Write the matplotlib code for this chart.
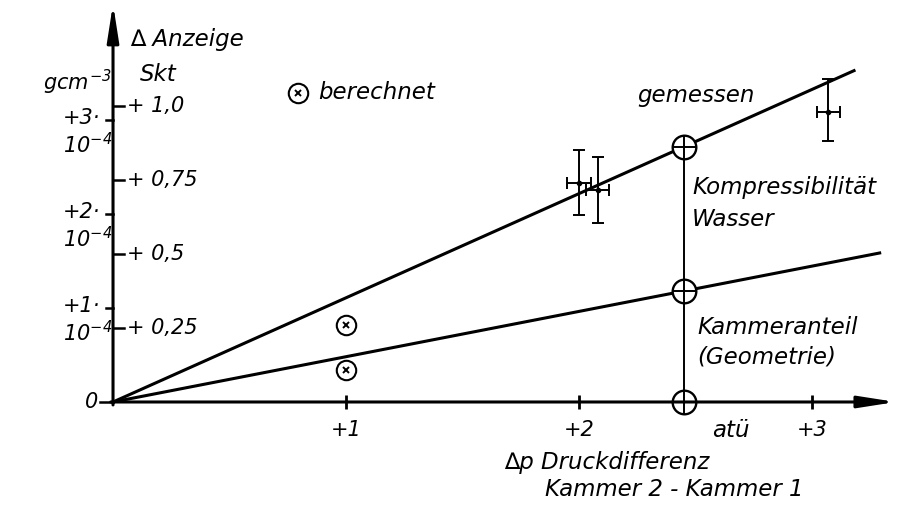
import matplotlib.pyplot as plt

plt.rcParams['font.family'] = ['DejaVu Sans']
plt.rcParams['font.style'] = 'italic'
plt.rcParams['mathtext.fontset'] = 'dejavusans'

# Druckdifferenz in atü, Anzeige in Skalenteilen (Skt)
x_ticks = [1, 2, 3]
x_labels = ['+1', '+2', '+3']
skt_ticks = [0.25, 0.5, 0.75, 1.0]
skt_labels = ['+ 0,25', '+ 0,5', '+ 0,75', '+ 1,0']
dens_ticks = [1, 2, 3]          # Dichte in 10^-4 g/cm^3
dens_labels = ['+1·', '+2·', '+3·']
skt_per_dens = 0.318            # Skt pro 10^-4 gcm^-3

# Geraden: Gesamtanzeige und Kammeranteil
slope_total = 0.352
slope_chamber = 0.153
end_total = 3.18
end_chamber = 3.29
p_ref = 2.45                    # Bezugsdruck fuer die Zerlegung

# berechnete Punkte
calc_x = [1.0, 1.0]
calc_y = [0.26, 0.108]

# Messpunkte mit Fehlerbalken
meas_x = [2.0, 2.08, 3.07]
meas_y = [0.74, 0.716, 0.98]
meas_xerr = [0.05, 0.05, 0.05]
meas_yerr_lo = [0.11, 0.11, 0.10]
meas_yerr_hi = [0.11, 0.11, 0.11]

FS = 15      # Teilung
FT = 16.5    # Beschriftung

fig = plt.figure(figsize=(9.06, 5.05), dpi=100)
ax = fig.add_axes([0, 0, 1, 1])
ax.set_xlim(-0.485, 3.403)
ax.set_ylim(-0.348, 1.358)
ax.axis('off')

arrow = dict(arrowstyle='-|>,head_length=1.6,head_width=0.25', lw=2.2, color='k',
             shrinkA=0, shrinkB=0, mutation_scale=14)
ax.annotate('', xy=(3.36, 0), xytext=(-0.01, 0), arrowprops=arrow)
ax.annotate('', xy=(0, 1.345), xytext=(0, -0.01), arrowprops=arrow)

# Achsenteilung
ax.plot(x_ticks, [0] * len(x_ticks), ls='none', marker='|', ms=10, mew=2, color='k')
for t, lab in zip(x_ticks, x_labels):
    ax.text(t, -0.095, lab, ha='center', va='center', fontsize=FS)
for t, lab in zip(skt_ticks, skt_labels):
    ax.plot([0, 0.045], [t, t], lw=1.8, color='k')
    ax.text(0.058, t, lab, ha='left', va='center', fontsize=FS)
for d, lab in zip(dens_ticks, dens_labels):
    y = d * skt_per_dens
    ax.plot([-0.03, 0], [y, y], lw=1.8, color='k')
    ax.text(-0.055, y + 0.005, lab, ha='right', va='center', fontsize=FS)
    ax.text(-0.003, y - 0.085, r'$10^{-4}$', ha='right', va='center', fontsize=FS)
ax.plot([-0.055, 0], [0, 0], lw=1.8, color='k')
ax.text(-0.065, 0, '0', ha='right', va='center', fontsize=FS)

ax.text(0.075, 1.223, '∆ Anzeige', ha='left', va='center', fontsize=FT)
ax.text(0.116, 1.105, 'Skt', ha='left', va='center', fontsize=FT)
ax.text(-0.005, 1.08, r'$gcm^{-3}$', ha='right', va='center', fontsize=FS)

ax.text(2.65, -0.095, 'atü', ha='center', va='center', fontsize=FT)
ax.text(1.68, -0.203, '∆p Druckdifferenz', ha='left', va='center', fontsize=FT)
ax.text(1.854, -0.297, 'Kammer 2 - Kammer 1', ha='left', va='center', fontsize=FT)

# Geraden
ax.plot([0, end_total], [0, slope_total * end_total], lw=2.2, color='k')
ax.plot([0, end_chamber], [0, slope_chamber * end_chamber], lw=2.2, color='k')
ax.plot([p_ref, p_ref], [0, slope_total * p_ref], lw=1.4, color='k')

ref_y = [0, slope_chamber * p_ref, slope_total * p_ref]
ax.plot([p_ref] * 3, ref_y, ls='none', marker='o', ms=17, mfc='white', mec='k', mew=1.7)
ax.plot([p_ref] * 3, ref_y, ls='none', marker='+', ms=17, mec='k', mew=1.4)

# berechnet
ax.plot(calc_x, calc_y, ls='none', marker='o', ms=14, mfc='white', mec='k', mew=1.5)
ax.plot(calc_x, calc_y, ls='none', marker='x', ms=5, mec='k', mew=1.4)
ax.plot([0.794], [1.044], ls='none', marker='o', ms=14, mfc='white', mec='k', mew=1.5)
ax.plot([0.794], [1.044], ls='none', marker='x', ms=5, mec='k', mew=1.4)
ax.text(0.88, 1.044, 'berechnet', ha='left', va='center', fontsize=FT)

# gemessen
ax.errorbar(meas_x, meas_y, xerr=meas_xerr, yerr=[meas_yerr_lo, meas_yerr_hi],
            fmt='o', ms=3, color='k', elinewidth=1.4, capsize=4, capthick=1.4)
ax.text(2.25, 1.037, 'gemessen', ha='left', va='center', fontsize=FT)

ax.text(2.485, 0.723, 'Kompressibilität', ha='left', va='center', fontsize=FT)
ax.text(2.485, 0.615, 'Wasser', ha='left', va='center', fontsize=FT)
ax.text(2.506, 0.25, 'Kammeranteil', ha='left', va='center', fontsize=FT)
ax.text(2.506, 0.152, '(Geometrie)', ha='left', va='center', fontsize=FT)

fig.savefig('out.png', dpi=100)
